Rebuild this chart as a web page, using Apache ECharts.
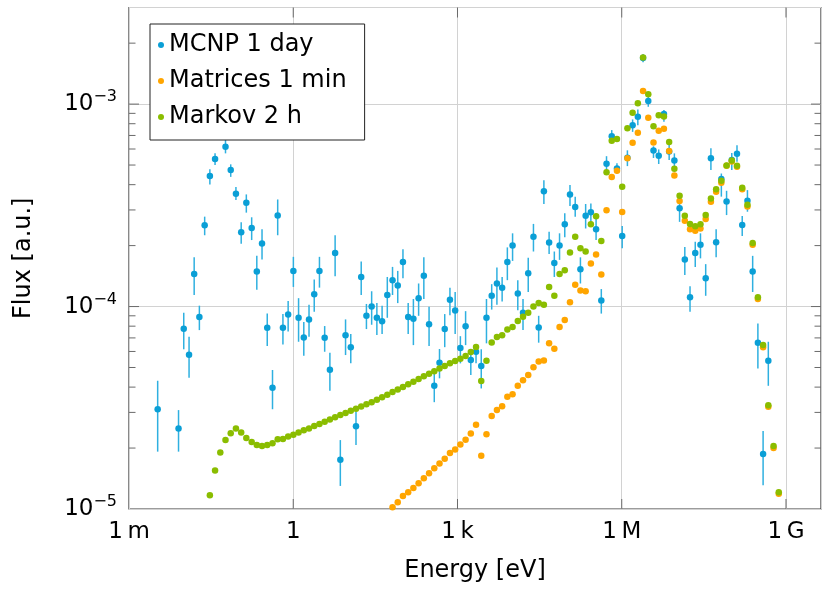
<!DOCTYPE html>
<html><head><meta charset="utf-8">
<script src="https://cdn.jsdelivr.net/npm/echarts@6/dist/echarts.min.js"></script>
<style>html,body{margin:0;padding:0;background:#fff}#c{width:824px;height:589px}</style>
</head><body><div id="c"></div>
<script>
// Energy grid [eV]
const energy = [
3.34e-3,4.16e-3,5.18e-3,6.45e-3,8.03e-3,1.00e-2,1.25e-2,1.55e-2,1.93e-2,2.41e-2,
3.00e-2,3.73e-2,4.65e-2,5.79e-2,7.21e-2,8.98e-2,0.112,0.139,0.174,0.216,
0.269,0.335,0.418,0.520,0.648,0.807,1.005,1.251,1.558,1.941,
2.417,3.011,3.750,4.670,5.817,7.244,9.022,11.24,14.00,17.43,
21.71,27.04,33.68,41.95,52.24,65.06,81.03,100.9,125.7,156.5,
195.0,242.8,302.5,376.7,469.2,584.4,727.8,906.4,1129,1406,
1751,2181,2716,3383,4214,5248,6536,8141,1.014e4,1.263e4,
1.573e4,1.959e4,2.440e4,3.039e4,3.784e4,4.714e4,5.871e4,7.311e4,9.107e4,1.134e5,
1.413e5,1.759e5,2.191e5,2.729e5,3.399e5,4.234e5,5.272e5,6.567e5,8.179e5,1.019e6,
1.269e6,1.580e6,1.968e6,2.451e6,3.053e6,3.802e6,4.735e6,5.898e6,7.345e6,9.148e6,
1.139e7,1.419e7,1.767e7,2.201e7,2.742e7,3.415e7,4.253e7,5.297e7,6.597e7,8.217e7,
1.023e8,1.274e8,1.587e8,1.977e8,2.462e8,3.067e8,3.819e8,4.756e8,5.925e8,7.379e8];

// MCNP 1 day (one value per energy bin, null = empty bin)
const mcnp = [
3.11e-5,null,null,null,2.50e-5,7.76e-5,5.78e-5,1.45e-4,8.87e-5,2.52e-4,
4.41e-4,5.35e-4,null,6.15e-4,4.72e-4,3.61e-4,2.33e-4,3.26e-4,2.44e-4,1.49e-4,
2.05e-4,7.85e-5,3.97e-5,2.82e-4,7.85e-5,9.13e-5,1.50e-4,8.80e-5,7.04e-5,8.64e-5,
1.15e-4,1.50e-4,7.01e-5,4.87e-5,1.84e-4,1.75e-5,7.21e-5,6.30e-5,2.56e-5,1.40e-4,
9.00e-5,1.00e-4,8.80e-5,8.45e-5,1.14e-4,1.35e-4,1.27e-4,1.66e-4,8.87e-5,8.71e-5,
1.10e-4,1.42e-4,8.17e-5,4.06e-5,5.28e-5,7.74e-5,1.08e-4,9.56e-5,6.24e-5,7.99e-5,
5.44e-5,5.98e-5,5.08e-5,8.80e-5,1.13e-4,1.30e-4,1.24e-4,1.66e-4,2.00e-4,1.16e-4,
9.32e-5,1.46e-4,2.21e-4,7.89e-5,3.71e-4,2.07e-4,1.64e-4,2.00e-4,2.55e-4,3.58e-4,
3.10e-4,1.53e-4,2.81e-4,2.92e-4,2.41e-4,1.07e-4,5.07e-4,6.93e-4,4.81e-4,2.23e-4,
5.43e-4,7.86e-4,8.65e-4,1.69e-3,1.035e-3,5.90e-4,5.55e-4,8.93e-4,5.84e-4,5.27e-4,
3.06e-4,1.71e-4,1.11e-4,1.84e-4,2.02e-4,1.38e-4,5.40e-4,2.08e-4,4.26e-4,3.30e-4,
5.30e-4,5.68e-4,2.53e-4,3.33e-4,1.49e-4,6.63e-5,1.87e-5,5.40e-5,null,null];
const mcnpLow = [
1.92e-5,null,null,null,1.92e-5,6.15e-5,4.45e-5,1.14e-4,7.65e-5,2.25e-4,
4.01e-4,5.00e-4,null,5.71e-4,4.37e-4,3.36e-4,2.04e-4,2.91e-4,2.13e-4,1.21e-4,
1.71e-4,6.38e-5,3.11e-5,2.25e-4,6.49e-5,7.52e-5,1.25e-4,6.70e-5,5.71e-5,7.09e-5,
9.42e-5,1.24e-4,5.98e-5,3.84e-5,1.41e-4,1.30e-5,5.76e-5,5.24e-5,2.07e-5,1.14e-4,
7.74e-5,8.13e-5,7.23e-5,7.31e-5,8.80e-5,1.14e-4,1.04e-4,1.38e-4,7.31e-5,6.45e-5,
9.00e-5,1.09e-4,6.38e-5,3.37e-5,4.42e-5,6.30e-5,9.06e-5,7.31e-5,5.24e-5,6.45e-5,
4.59e-5,5.24e-5,3.94e-5,6.58e-5,9.66e-5,1.02e-4,1.06e-4,1.35e-4,1.68e-4,9.60e-5,
7.65e-5,1.18e-4,1.87e-4,6.63e-5,3.21e-4,1.82e-4,1.40e-4,1.70e-4,2.20e-4,3.14e-4,
2.78e-4,1.30e-4,2.43e-4,2.58e-4,2.13e-4,9.23e-5,4.54e-4,6.51e-4,4.54e-4,1.94e-4,
4.94e-4,7.29e-4,7.86e-4,1.61e-3,9.70e-4,5.42e-4,5.06e-4,8.18e-4,5.30e-4,4.81e-4,
2.62e-4,1.43e-4,9.42e-5,1.57e-4,1.73e-4,1.13e-4,4.72e-4,1.75e-4,3.49e-4,2.83e-4,
4.72e-4,5.19e-4,2.23e-4,2.94e-4,1.18e-4,4.95e-5,1.31e-5,4.06e-5,null,null];
const mcnpHigh = [
4.30e-5,null,null,null,3.08e-5,9.32e-5,7.09e-5,1.75e-4,1.01e-4,2.78e-4,
4.76e-4,5.71e-4,null,6.64e-4,5.04e-4,3.90e-4,2.61e-4,3.58e-4,2.76e-4,1.78e-4,
2.41e-4,9.23e-5,4.86e-5,3.38e-4,9.18e-5,1.065e-4,1.76e-4,1.10e-4,8.39e-5,1.02e-4,
1.36e-4,1.76e-4,8.01e-5,5.91e-5,2.25e-4,2.19e-5,8.64e-5,7.31e-5,3.02e-5,1.67e-4,
1.03e-4,1.19e-4,1.04e-4,1.01e-4,1.40e-4,1.57e-4,1.50e-4,1.92e-4,1.04e-4,1.09e-4,
1.30e-4,1.75e-4,9.98e-5,4.68e-5,6.17e-5,9.18e-5,1.24e-4,1.18e-4,7.14e-5,9.49e-5,
6.15e-5,6.33e-5,6.15e-5,1.09e-4,1.29e-4,1.56e-4,1.40e-4,1.96e-4,2.30e-4,1.35e-4,
1.09e-4,1.74e-4,2.56e-4,9.00e-5,4.21e-4,2.34e-4,1.87e-4,2.30e-4,2.89e-4,3.98e-4,
3.49e-4,1.75e-4,3.21e-4,3.23e-4,2.78e-4,1.22e-4,5.53e-4,7.44e-4,5.10e-4,2.50e-4,
5.91e-4,8.40e-4,9.41e-4,1.77e-3,1.095e-3,6.19e-4,5.97e-4,9.35e-4,6.40e-4,5.71e-4,
3.23e-4,1.97e-4,1.26e-4,2.09e-4,2.30e-4,1.62e-4,6.05e-4,2.41e-4,4.54e-4,3.73e-4,
5.73e-4,6.27e-4,2.80e-4,3.76e-4,1.78e-4,8.25e-5,2.43e-5,6.70e-5,null,null];

// Matrices 1 min (starts at energy bin 45)
const matricesStart = 45;
const matrices = [
1.02e-5,1.08e-5,1.16e-5,1.21e-5,1.27e-5,
1.34e-5,1.42e-5,1.50e-5,1.59e-5,1.68e-5,1.77e-5,1.89e-5,1.97e-5,2.08e-5,2.20e-5,
2.36e-5,2.61e-5,1.83e-5,2.34e-5,2.88e-5,3.08e-5,3.22e-5,3.58e-5,3.69e-5,4.06e-5,
4.32e-5,4.59e-5,5.02e-5,5.36e-5,5.41e-5,6.58e-5,6.19e-5,7.92e-5,8.58e-5,1.05e-4,
1.28e-4,1.20e-4,1.19e-4,1.63e-4,1.81e-4,1.44e-4,2.99e-4,4.36e-4,4.69e-4,2.93e-4,
5.40e-4,6.44e-4,7.22e-4,1.16e-3,8.56e-4,6.47e-4,7.38e-4,7.55e-4,5.86e-4,4.44e-4,
3.32e-4,2.65e-4,2.41e-4,2.37e-4,2.43e-4,2.71e-4,3.29e-4,3.69e-4,4.09e-4,4.96e-4,
5.20e-4,4.90e-4,3.80e-4,3.12e-4,2.02e-4,1.09e-4,6.30e-5,3.20e-5,2.00e-5,1.19e-5];

// Markov 2 h (starts at energy bin 10)
const markovStart = 10;
const markov = [
1.17e-5,1.55e-5,1.90e-5,2.19e-5,2.37e-5,2.50e-5,2.39e-5,2.24e-5,2.14e-5,2.07e-5,
2.05e-5,2.07e-5,2.11e-5,2.21e-5,2.22e-5,2.28e-5,2.33e-5,2.39e-5,2.45e-5,2.50e-5,
2.57e-5,2.63e-5,2.70e-5,2.77e-5,2.84e-5,2.91e-5,2.98e-5,3.06e-5,3.13e-5,3.21e-5,
3.29e-5,3.37e-5,3.46e-5,3.56e-5,3.67e-5,3.78e-5,3.89e-5,4.01e-5,4.13e-5,4.25e-5,
4.39e-5,4.52e-5,4.65e-5,4.79e-5,4.94e-5,5.09e-5,5.24e-5,5.38e-5,5.52e-5,5.70e-5,
5.96e-5,6.31e-5,4.29e-5,5.40e-5,6.65e-5,7.07e-5,7.21e-5,7.71e-5,7.92e-5,8.48e-5,
8.90e-5,9.32e-5,1.00e-4,1.04e-4,1.02e-4,1.25e-4,1.13e-4,1.45e-4,1.51e-4,1.85e-4,
2.21e-4,1.94e-4,1.87e-4,2.55e-4,2.79e-4,2.11e-4,4.60e-4,6.59e-4,6.72e-4,3.91e-4,
7.59e-4,9.06e-4,1.01e-3,1.70e-3,1.12e-3,7.78e-4,8.82e-4,8.69e-4,6.49e-4,4.79e-4,
3.53e-4,2.81e-4,2.56e-4,2.49e-4,2.55e-4,2.83e-4,3.42e-4,3.80e-4,4.18e-4,4.98e-4,
5.27e-4,4.96e-4,3.86e-4,3.18e-4,2.06e-4,1.11e-4,6.45e-5,3.25e-5,2.05e-5,1.21e-5];

const seriesNames = ['MCNP 1 day', 'Matrices 1 min', 'Markov 2 h'];
const xTickValues = [1e-3, 1, 1e3, 1e6, 1e9];
const xTickLabels = ['1\u2009m', '1', '1\u2009k', '1\u2009M', '1\u2009G'];
const yTickValues = [1e-5, 1e-4, 1e-3];
const yTickExponents = ['\u22125', '\u22124', '\u22123'];
const yMinorTicks = [2e-5,3e-5,4e-5,5e-5,6e-5,7e-5,8e-5,9e-5,
                     2e-4,3e-4,4e-4,5e-4,6e-4,7e-4,8e-4,9e-4,2e-3];

const X_MIN = 1e-3, X_MAX = 4.36e9, Y_MIN = 1e-5, Y_MAX = 3e-3;
const FONT = 'DejaVu Sans';
const C_BLUE = '#0a9fd6', C_ERR = '#2fb0e0', C_ORANGE = '#ffa500', C_GREEN = '#8abd00';
const TICK_COLOR = '#6a6a6a';

const sameLog = (a, b) => Math.abs(Math.log10(a) - Math.log10(b)) < 1e-6;

const mcnpPts = [], mcnpErr = [];
energy.forEach((e, i) => {
  if (mcnp[i] != null) { mcnpPts.push([e, mcnp[i]]); mcnpErr.push([e, mcnpLow[i], mcnpHigh[i]]); }
});
const matricesPts = matrices.map((v, k) => [energy[k + matricesStart], v]);
const markovPts = markov.map((v, k) => [energy[k + markovStart], v]);

const yTickMarks = yTickValues.slice(1).map(v => [X_MIN, v, 1]).concat(yMinorTicks.map(v => [X_MIN, v, 0]));
const xTickMarks = xTickValues.slice(1).map(v => [v, Y_MIN]);

const chart = echarts.init(document.getElementById('c'), null, {renderer: 'canvas'});
chart.setOption({
  animation: false,
  backgroundColor: '#fff',
  grid: {left: 129, right: 2, top: 7.5, bottom: 80, show: true, borderColor: '#3a3a3a', borderWidth: 1.2, backgroundColor: '#fff'},
  legend: {
    data: seriesNames, orient: 'vertical', left: 150, top: 24,
    icon: 'circle', itemWidth: 6, itemHeight: 6, itemGap: 4,
    padding: [5, 18, 7, 8], borderColor: '#222', borderWidth: 1, backgroundColor: '#fff',
    selectedMode: false,
    textStyle: {fontFamily: FONT, fontSize: 24, color: '#000', lineHeight: 32}
  },
  xAxis: {
    type: 'log', logBase: 10, min: X_MIN, max: X_MAX, interval: 3,
    axisLine: {show: false}, axisTick: {show: false},
    splitLine: {show: true, lineStyle: {color: '#d2d2d2', width: 1}},
    axisLabel: {
      fontFamily: FONT, fontSize: 23, color: '#000', margin: 12,
      formatter: v => { const i = xTickValues.findIndex(t => sameLog(t, v)); return i < 0 ? '' : xTickLabels[i]; }
    },
    name: 'Energy [eV]', nameLocation: 'middle', nameGap: 50,
    nameTextStyle: {fontFamily: FONT, fontSize: 24, color: '#000'}
  },
  yAxis: {
    type: 'log', logBase: 10, min: Y_MIN, max: Y_MAX, interval: 1,
    axisLine: {show: false}, axisTick: {show: false},
    splitLine: {show: true, lineStyle: {color: '#d2d2d2', width: 1}},
    axisLabel: {
      margin: 12,
      formatter: v => { const i = yTickValues.findIndex(t => sameLog(t, v)); return i < 0 ? '' : '{b|10}{s|' + yTickExponents[i] + '}'; },
      rich: {
        b: {fontFamily: FONT, fontSize: 23, color: '#000', lineHeight: 30},
        s: {fontFamily: FONT, fontSize: 16, color: '#000', verticalAlign: 'top', lineHeight: 16}
      }
    },
    name: 'Flux [a.u.]', nameLocation: 'middle', nameGap: 93,
    nameTextStyle: {fontFamily: FONT, fontSize: 24, color: '#000'}
  },
  series: [
    {
      name: 'mcnp-error', type: 'custom', silent: true, data: mcnpErr,
      encode: {x: 0, y: [1, 2]},
      renderItem: (params, api) => {
        const a = api.coord([api.value(0), api.value(1)]);
        const b = api.coord([api.value(0), api.value(2)]);
        return {type: 'line', shape: {x1: a[0], y1: a[1], x2: b[0], y2: b[1]}, style: {stroke: C_ERR, lineWidth: 1.5}};
      }
    },
    {name: seriesNames[0], type: 'scatter', data: mcnpPts, symbol: 'circle', symbolSize: 6.5, itemStyle: {color: C_BLUE, opacity: 1}, silent: true},
    {name: seriesNames[1], type: 'scatter', data: matricesPts, symbol: 'circle', symbolSize: 6.5, itemStyle: {color: C_ORANGE, opacity: 1}, silent: true},
    {name: seriesNames[2], type: 'scatter', data: markovPts, symbol: 'circle', symbolSize: 6.5, itemStyle: {color: C_GREEN, opacity: 1}, silent: true},
    {
      name: 'y-ticks', type: 'custom', silent: true, data: yTickMarks, encode: {x: 0, y: 1}, z: 5,
      renderItem: (params, api) => {
        const cs = params.coordSys;
        const p = api.coord([api.value(0), api.value(1)]);
        const len = api.value(2) ? 10 : 6.5;
        const st = {stroke: TICK_COLOR, lineWidth: 1};
        return {type: 'group', children: [
          {type: 'line', shape: {x1: cs.x, y1: p[1], x2: cs.x + len, y2: p[1]}, style: st},
          {type: 'line', shape: {x1: cs.x + cs.width, y1: p[1], x2: cs.x + cs.width - len, y2: p[1]}, style: st}
        ]};
      }
    },
    {
      name: 'x-ticks', type: 'custom', silent: true, data: xTickMarks, encode: {x: 0, y: 1}, z: 5,
      renderItem: (params, api) => {
        const cs = params.coordSys;
        const p = api.coord([api.value(0), api.value(1)]);
        const st = {stroke: TICK_COLOR, lineWidth: 1};
        return {type: 'group', children: [
          {type: 'line', shape: {x1: p[0], y1: cs.y + cs.height, x2: p[0], y2: cs.y + cs.height - 10}, style: st},
          {type: 'line', shape: {x1: p[0], y1: cs.y, x2: p[0], y2: cs.y + 10}, style: st}
        ]};
      }
    }
  ]
});
</script></body></html>
